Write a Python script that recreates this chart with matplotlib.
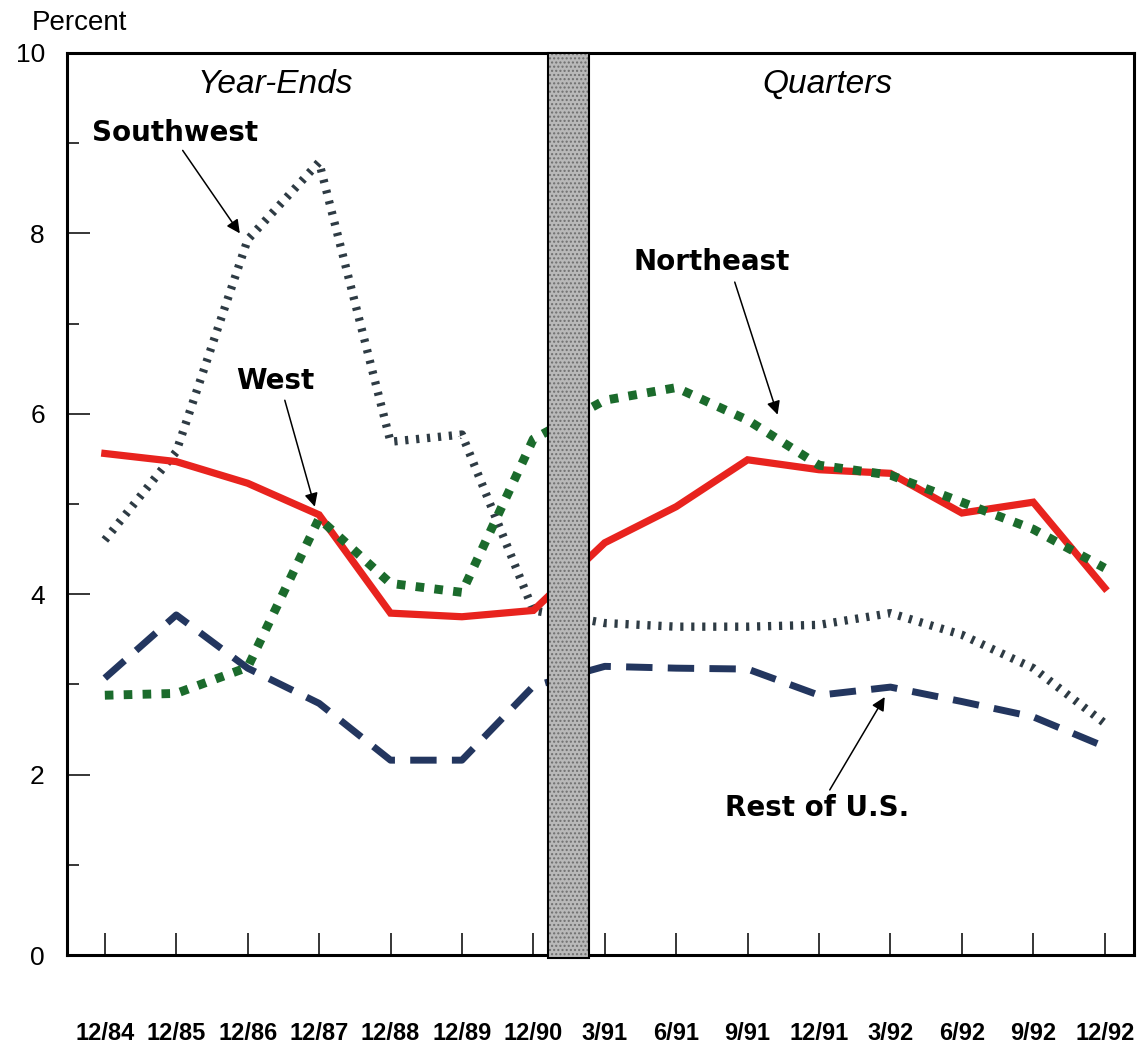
import matplotlib
matplotlib.use("Agg")
import matplotlib.pyplot as plt
import numpy as np

plt.rcParams['font.family'] = ['Liberation Sans', 'DejaVu Sans']
plt.rcParams['lines.scale_dashes'] = False

periods = ["12/84", "12/85", "12/86", "12/87", "12/88", "12/89", "12/90",
           "3/91", "6/91", "9/91", "12/91", "3/92", "6/92", "9/92", "12/92"]
west = [5.56, 5.47, 5.23, 4.88, 3.79, 3.75, 3.82,
        4.57, 4.97, 5.49, 5.38, 5.34, 4.90, 5.02, 4.07]
northeast = [2.88, 2.90, 3.19, 4.84, 4.12, 4.02, 5.72,
             6.15, 6.29, 5.93, 5.43, 5.32, 5.02, 4.72, 4.29]
southwest = [4.60, 5.58, 7.93, 8.79, 5.69, 5.77, 3.82,
             3.68, 3.64, 3.64, 3.66, 3.79, 3.55, 3.18, 2.57]
rest_us = [3.07, 3.77, 3.18, 2.79, 2.16, 2.16, 2.98,
           3.20, 3.18, 3.17, 2.88, 2.97, 2.81, 2.64, 2.31]

x = np.arange(len(periods))

fig = plt.figure(figsize=(11.43, 10.49), dpi=100)
ax = fig.add_axes([0.0586, 0.0896, 0.9335, 0.8599])

ax.plot(x, southwest, color='#2e3b44', lw=6.0, dashes=(2.3, 5.6), dash_capstyle='butt', zorder=2)
ax.plot(x, rest_us, color='#23365f', lw=5.0, dashes=(19, 11), dash_capstyle='butt', zorder=3)
ax.plot(x, west, color='#e8231e', lw=5.2, solid_joinstyle='miter', zorder=4)
ax.plot(x, northeast, color='#1b6b2c', lw=6.4, dashes=(6.2, 7.4), dash_capstyle='butt', zorder=5)

# shaded break between year-ends and quarters
band = plt.Rectangle((6.2, -0.03), 0.58, 10.03, facecolor='#b9b9b9', edgecolor='#6f6f6f',
                     hatch='....', lw=0, zorder=6, clip_on=False)
ax.add_patch(band)
band2 = plt.Rectangle((6.2, -0.03), 0.58, 10.03, facecolor='none', edgecolor='black',
                      lw=1.5, zorder=7, clip_on=False)
ax.add_patch(band2)

ax.set_xlim(-0.53, 14.41)
ax.set_ylim(0, 10)
ax.set_xticks(x)
ax.set_xticklabels(periods, fontsize=17, fontweight='bold')
ax.set_yticks([0, 2, 4, 6, 8, 10])
ax.set_yticklabels(["0", "2", "4", "6", "8", "10"], fontsize=19)
ax.set_yticks([1, 3, 5, 7, 9], minor=True)
ax.tick_params(axis='x', direction='in', length=16, width=1.1, pad=48)
ax.tick_params(axis='y', which='major', direction='in', length=16.5, width=1.1, pad=16)
ax.tick_params(axis='y', which='minor', direction='in', length=8.6, width=1.1)
for s in ax.spines.values():
    s.set_linewidth(2.2)

fig.text(0.028, 0.99, "Percent", fontsize=20, ha='left', va='top')

ax.text(2.38, 9.65, "Year-Ends", fontsize=24, style='italic', ha='center', va='center')
ax.text(10.12, 9.65, "Quarters", fontsize=24, style='italic', ha='center', va='center')

arrowprops = dict(arrowstyle='-|>', color='black', lw=1.1, mutation_scale=20, shrinkA=0, shrinkB=0)
lab = dict(fontsize=20, fontweight='bold', ha='center', va='center', family=['DejaVu Sans'])
ax.text(0.98, 9.11, "Southwest", **lab)
ax.annotate("", xy=(1.89, 8.0), xytext=(1.09, 8.92), arrowprops=arrowprops)
ax.text(2.38, 6.36, "West", **lab)
ax.annotate("", xy=(2.94, 4.97), xytext=(2.52, 6.15), arrowprops=arrowprops)
ax.text(8.50, 7.68, "Northeast", **lab)
ax.annotate("", xy=(9.42, 5.99), xytext=(8.82, 7.46), arrowprops=arrowprops)
ax.text(9.98, 1.63, "Rest of U.S.", **lab)
ax.annotate("", xy=(10.92, 2.86), xytext=(10.15, 1.83), arrowprops=arrowprops)

fig.savefig("out.png", dpi=100)
